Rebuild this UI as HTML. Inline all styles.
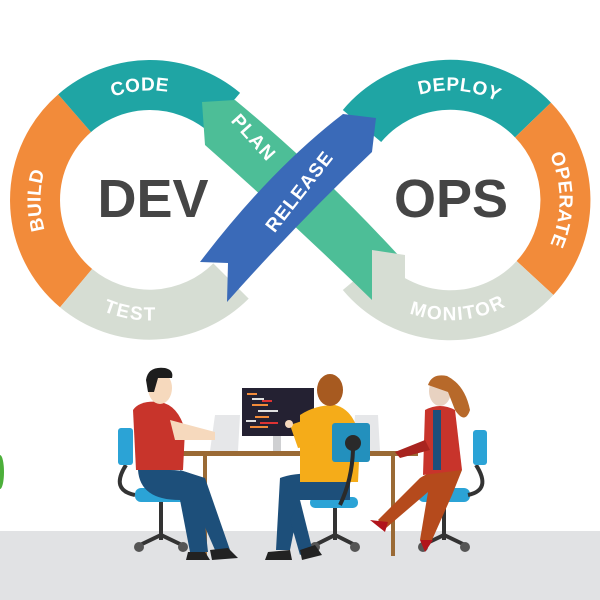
<!DOCTYPE html>
<html><head><meta charset="utf-8"><style>
html,body{margin:0;padding:0;background:#fff;width:600px;height:600px;overflow:hidden}
svg{display:block}
.lb{font-family:"Liberation Sans",sans-serif;font-weight:bold;fill:#fff;font-size:19px;letter-spacing:1px}
.big{font-family:"Liberation Sans",sans-serif;font-weight:bold;fill:#454545;font-size:54px}
</style></head><body>
<svg width="600" height="600" viewBox="0 0 600 600" xmlns="http://www.w3.org/2000/svg">
<defs>
<path id="pCode" d="M92.5,100.4 A115,115 0 0 1 189.3,91.9"/>
<path id="pBuild" d="M50.4,257.5 A115,115 0 0 1 50.4,142.5"/>
<path id="pTest" d="M76.1,288.1 A115,115 0 0 0 189.3,308.1"/>
<path id="pDeploy" d="M392.5,100.4 A115,115 0 0 1 523.9,112"/>
<path id="pOper" d="M543,132.4 A115,115 0 0 1 543,267.6"/>
<path id="pMon" d="M382.4,293 A115,115 0 0 0 530,282"/>
</defs>
<rect x="0" y="531" width="600" height="69" fill="#e1e2e4"/>
<g fill="none" stroke-width="50">
<path d="M76.1,288.1 A115,115 0 0 1 74.6,113.2" stroke="#f28b3a"/>
<path d="M74.6,113.2 A115,115 0 0 1 224,112" stroke="#1fa5a4"/>
<path d="M231,281 A115,115 0 0 1 76.1,288.1" stroke="#d6ddd3"/>
<path d="M362,126 A115,115 0 0 1 533,120" stroke="#1fa5a4"/>
<path d="M533,120 A115,115 0 0 1 535,278" stroke="#f28b3a"/>
<path d="M535,278 A115,115 0 0 1 362,274" stroke="#d6ddd3"/>
</g>
<path d="M202,102 L235,100 Q320,170 400,257 L372,300 Q290,220 205,145 Z" fill="#4dbe97"/>
<polygon points="372,250 405,255 405,305 372,305" fill="#d6ddd3"/>
<path d="M200,262 Q270,170 343,114 L376,118 L372,152 Q300,220 227,302 L228,263 Z" fill="#3a6ab8"/>
<text class="lb"><textPath href="#pCode" startOffset="50%" text-anchor="middle" dominant-baseline="central">CODE</textPath></text>
<text class="lb"><textPath href="#pBuild" startOffset="50%" text-anchor="middle" dominant-baseline="central">BUILD</textPath></text>
<text class="lb"><textPath href="#pTest" startOffset="50%" text-anchor="middle" dominant-baseline="central">TEST</textPath></text>
<text class="lb"><textPath href="#pDeploy" startOffset="50%" text-anchor="middle" dominant-baseline="central">DEPLOY</textPath></text>
<text class="lb"><textPath href="#pOper" startOffset="50%" text-anchor="middle" dominant-baseline="central">OPERATE</textPath></text>
<text class="lb"><textPath href="#pMon" startOffset="50%" text-anchor="middle" dominant-baseline="central">MONITOR</textPath></text>
<text class="lb" transform="translate(253,138) rotate(48)" text-anchor="middle" dominant-baseline="central">PLAN</text>
<text class="lb" transform="translate(300,192) rotate(-52)" text-anchor="middle" dominant-baseline="central">RELEASE</text>
<text class="big" x="153" y="217" text-anchor="middle">DEV</text>
<text class="big" x="451" y="217" text-anchor="middle">OPS</text>
<ellipse cx="0" cy="472" rx="4" ry="17" fill="#4caf3a"/>
<rect x="182" y="451" width="236" height="5" fill="#9a6a35"/>
<rect x="203" y="456" width="4" height="100" fill="#9a6a35"/>
<rect x="391" y="456" width="4" height="100" fill="#9a6a35"/>
<polygon points="215,415 240,415 238,451 210,451" fill="#e6e7e9"/>
<polygon points="355,415 378,415 380,451 352,451" fill="#e6e7e9"/>
<rect x="242" y="388" width="72" height="48" fill="#242132"/>
<g fill="#f28b3a"><rect x="247" y="393" width="10" height="2"/><rect x="252" y="404" width="16" height="2"/><rect x="255" y="416" width="14" height="2"/><rect x="250" y="426" width="18" height="2"/></g>
<g fill="#e0e0e0"><rect x="252" y="398" width="12" height="2"/><rect x="258" y="410" width="20" height="2"/><rect x="246" y="420" width="10" height="2"/></g>
<g fill="#d33"><rect x="262" y="400" width="10" height="2"/><rect x="260" y="422" width="18" height="2"/></g>
<rect x="273" y="436" width="8" height="15" fill="#cfd0d2"/>
<path d="M126,465 Q110,490 135,495" stroke="#333" stroke-width="4" fill="none"/>
<rect x="118" y="428" width="15" height="37" rx="3" fill="#2ba3d6"/>
<path d="M161,502 V540 M140,545 L161,535 L182,545" stroke="#333" stroke-width="4" fill="none"/>
<circle cx="139" cy="547" r="5" fill="#555"/><circle cx="183" cy="547" r="5" fill="#555"/>
<rect x="135" y="488" width="52" height="14" rx="6" fill="#2ba3d6"/>
<path d="M138,470 Q140,500 180,500 L190,552 L208,552 L200,480 Q190,470 170,470 Z" fill="#1d4f7a"/>
<path d="M180,470 L215,550 L230,550 L205,478 Z" fill="#1d4f7a"/>
<path d="M188,552 L205,552 L210,560 L186,560 Z M210,550 L228,548 L238,558 L212,560 Z" fill="#222"/>
<path d="M133,410 Q140,400 160,402 Q178,405 185,430 L183,470 L136,470 Z" fill="#c8342b"/>
<path d="M170,420 L215,432 L215,440 L175,440 Z" fill="#f6d9bd"/>
<ellipse cx="160" cy="388" rx="12" ry="16" fill="#f6d9bd"/>
<path d="M146,380 Q148,366 165,368 Q174,370 172,378 L158,378 L154,392 L148,392 Z" fill="#1d1d1d"/>
<rect x="310" y="497" width="48" height="11" rx="5" fill="#2ba3d6"/>
<path d="M335,508 V540 M315,545 L335,535 L355,545" stroke="#333" stroke-width="4" fill="none"/>
<circle cx="315" cy="547" r="5" fill="#555"/><circle cx="355" cy="547" r="5" fill="#555"/>
<path d="M280,478 Q300,470 350,475 L350,500 L300,500 L290,550 L276,550 Z" fill="#1d4f7a"/>
<path d="M300,500 L312,548 L300,555 L290,520 Z" fill="#1d4f7a"/>
<path d="M268,552 L290,550 L292,560 L265,560 Z M300,550 L315,545 L322,555 L302,560 Z" fill="#222"/>
<path d="M300,415 Q315,405 335,405 Q355,410 360,440 L358,482 L300,482 Z" fill="#f5ac19"/>
<path d="M290,425 L305,420 L315,445 L298,448 Z" fill="#f5ac19"/>
<circle cx="289" cy="424" r="4" fill="#f6d9bd"/>
<ellipse cx="330" cy="390" rx="13" ry="16" fill="#a75a20"/>
<rect x="332" y="423" width="38" height="39" rx="3" fill="#2390bd"/>
<circle cx="353" cy="443" r="8" fill="#2a2a2a"/>
<path d="M353,450 Q352,480 340,505" stroke="#2a2a2a" stroke-width="4" fill="none"/>
<rect x="418" y="488" width="52" height="14" rx="6" fill="#2ba3d6"/>
<path d="M476,465 Q492,490 468,495" stroke="#333" stroke-width="4" fill="none"/>
<rect x="473" y="430" width="14" height="35" rx="3" fill="#2ba3d6"/>
<path d="M444,502 V540 M423,545 L444,535 L465,545" stroke="#333" stroke-width="4" fill="none"/>
<circle cx="423" cy="547" r="5" fill="#555"/><circle cx="465" cy="547" r="5" fill="#555"/>
<path d="M462,470 Q440,465 420,478 L378,520 L386,528 L428,492 L420,540 L432,540 L452,495 Z" fill="#b54a1c"/>
<path d="M370,520 L388,522 L385,532 Z M420,540 L433,540 L425,552 Z" fill="#b1141c"/>
<path d="M425,410 Q440,402 455,410 L462,470 L423,475 Z" fill="#c8342b"/>
<rect x="433" y="410" width="8" height="60" fill="#1d4f7a"/>
<path d="M425,440 L395,452 L400,458 L430,450 Z" fill="#a8241f"/>
<ellipse cx="440" cy="391" rx="11" ry="15" fill="#e8d2c1"/>
<path d="M428,385 Q432,373 447,376 Q465,385 470,410 Q465,425 455,410 L448,392 Z" fill="#b7692a"/>
</svg>
</body></html>
